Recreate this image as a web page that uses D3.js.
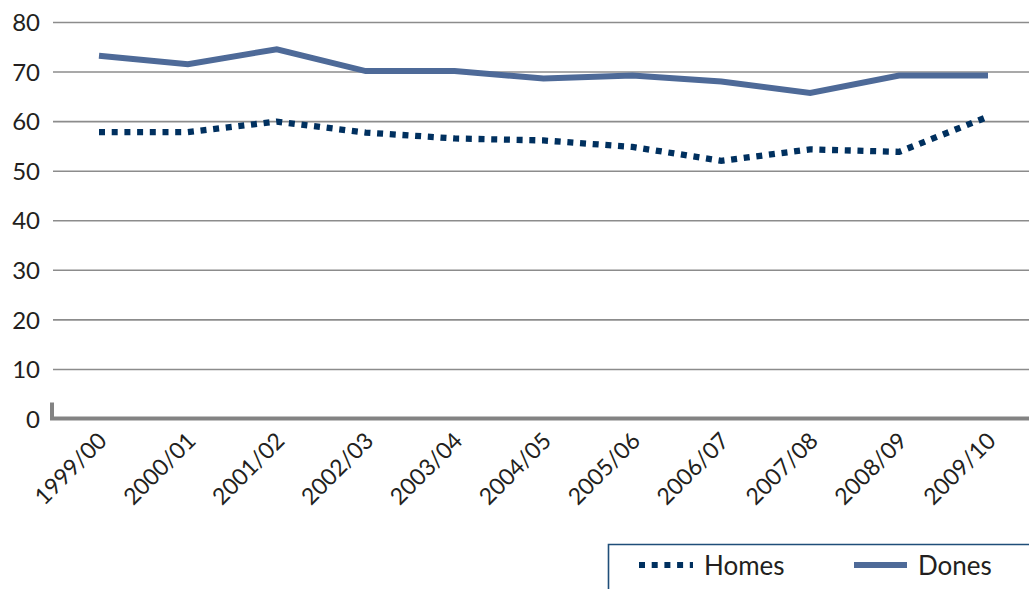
<!DOCTYPE html>
<html>
<head>
<meta charset="utf-8">
<script src="https://cdn.jsdelivr.net/npm/d3@7"></script>
<style>
  html, body { margin: 0; padding: 0; background: #fff; overflow: hidden; }
  svg text { font-family: Lato, "Open Sans", sans-serif; fill: #231f20; }
</style>
</head>
<body>
<div id="chart"></div>
<script>
// ===== Daten =====
const years = ['1999/00', '2000/01', '2001/02', '2002/03', '2003/04', '2004/05',
  '2005/06', '2006/07', '2007/08', '2008/09', '2009/10'];
const homes = [57.8, 57.8, 59.9, 57.7, 56.5, 56.1, 54.8, 52.0, 54.3, 53.8, 60.9];
const dones = [73.2, 71.5, 74.5, 70.1, 70.1, 68.6, 69.2, 68.0, 65.7, 69.2, 69.2];
const yTicks = [0, 10, 20, 30, 40, 50, 60, 70, 80];
const seriesNames = ['Homes', 'Dones'];

const width = 1029, height = 589;

const svg = d3.select('#chart').append('svg')
  .attr('width', width)
  .attr('height', height);

// Skalen
const x = d3.scalePoint().domain(years).range([99, 988]);
const y = d3.scaleLinear().domain([0, 80]).range([418.5, 22]);

// Gitterlinien
const grid = svg.append('g')
  .attr('transform', 'translate(53,0)')
  .call(d3.axisLeft(y).tickValues(yTicks.filter(d => d > 0)).tickSize(-(width - 53)).tickFormat(''));
grid.select('.domain').remove();
grid.selectAll('.tick line').attr('stroke', '#8c8c8c').attr('stroke-width', 1.6);

// Y-Achsenbeschriftung
const yAxis = svg.append('g')
  .attr('transform', 'translate(40,0)')
  .call(d3.axisLeft(y).tickValues(yTicks).tickSize(0).tickPadding(0).tickFormat(d3.format('d')));
yAxis.select('.domain').remove();
yAxis.selectAll('text')
  .attr('font-size', 24)
  .attr('dy', '0.36em')
  .style('font-family', 'Lato, sans-serif');

// Nulllinie mit kleinem Haken links
svg.append('path')
  .attr('d', `M52,${y(0) - 16} V${y(0)} H${width}`)
  .attr('fill', 'none')
  .attr('stroke', '#838383')
  .attr('stroke-width', 4);

// X-Achsenbeschriftung (um -45° gedreht)
const xAxis = svg.append('g')
  .attr('transform', `translate(-3,${y(0) + 12})`)
  .call(d3.axisBottom(x).tickSize(0).tickPadding(0));
xAxis.select('.domain').remove();
xAxis.selectAll('text')
  .attr('font-size', 23)
  .attr('text-anchor', 'end')
  .attr('dy', '0.72em')
  .attr('y', 0)
  .attr('transform', 'rotate(-45)')
  .style('font-family', 'Lato, sans-serif');

// Linien
const line = d3.line()
  .x((d, i) => x(years[i]))
  .y(d => y(d));

svg.append('path')
  .datum(dones)
  .attr('d', line)
  .attr('fill', 'none')
  .attr('stroke', '#4e6a98')
  .attr('stroke-width', 6)
  .attr('stroke-linejoin', 'miter');

svg.append('path')
  .datum(homes)
  .attr('d', line)
  .attr('fill', 'none')
  .attr('stroke', '#00305f')
  .attr('stroke-width', 6.3)
  .attr('stroke-dasharray', '6 6.7');

// Legende
const legend = svg.append('g');
legend.append('path')
  .attr('d', `M608.5,${height + 5} V544.5 H${width + 5}`)
  .attr('fill', 'none')
  .attr('stroke', '#1f4e79')
  .attr('stroke-width', 1.6);

const legendItems = [
  { name: seriesNames[0], x1: 639, x2: 693, tx: 704, color: '#00305f', dash: '6 6.7' },
  { name: seriesNames[1], x1: 854, x2: 907, tx: 918, color: '#4e6a98', dash: null }
];
legendItems.forEach(it => {
  legend.append('line')
    .attr('x1', it.x1).attr('x2', it.x2)
    .attr('y1', 565).attr('y2', 565)
    .attr('stroke', it.color)
    .attr('stroke-width', 6)
    .attr('stroke-dasharray', it.dash);
  legend.append('text')
    .attr('x', it.tx)
    .attr('y', 575)
    .attr('font-size', 26)
    .text(it.name);
});
</script>
</body>
</html>
